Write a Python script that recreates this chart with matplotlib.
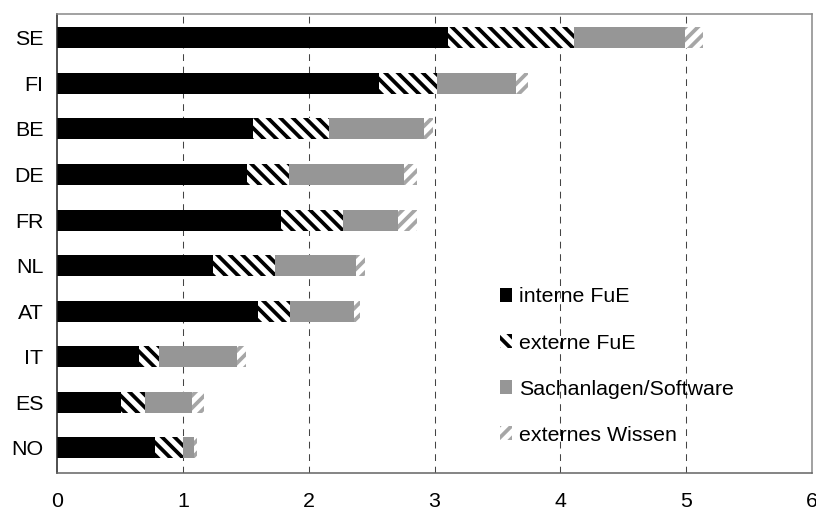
import matplotlib
matplotlib.use("Agg")
import matplotlib.pyplot as plt
import numpy as np

countries = ["SE", "FI", "BE", "DE", "FR", "NL", "AT", "IT", "ES", "NO"]
interne_fue = [3.11, 2.56, 1.56, 1.51, 1.78, 1.24, 1.60, 0.65, 0.51, 0.78]
externe_fue = [1.00, 0.46, 0.60, 0.33, 0.49, 0.49, 0.25, 0.16, 0.19, 0.22]
sachanlagen = [0.88, 0.63, 0.76, 0.92, 0.44, 0.65, 0.51, 0.62, 0.37, 0.09]
externes_wissen = [0.14, 0.09, 0.07, 0.10, 0.15, 0.07, 0.05, 0.07, 0.10, 0.02]
labels = ["interne FuE", "externe FuE", "Sachanlagen/Software", "externes Wissen"]
xticks = [0, 1, 2, 3, 4, 5, 6]

DPI = 75
plt.rcParams['font.family'] = ['Liberation Sans', 'DejaVu Sans']
plt.rcParams['hatch.linewidth'] = 3.6

fig = plt.figure(figsize=(816 / DPI, 511 / DPI), dpi=DPI)
ax = fig.add_axes([57 / 816, 38 / 511, 755 / 816, 459 / 511])

y = np.arange(len(countries))
h = 0.46
left = np.zeros(len(countries))

ax.barh(y, interne_fue, left=left, height=h, color="black", linewidth=0,
        label=labels[0], zorder=2)
left += np.array(interne_fue)
ax.barh(y, externe_fue, left=left, height=h, facecolor="white",
        edgecolor="black", hatch="\\\\", linewidth=0, label=labels[1], zorder=2)
left += np.array(externe_fue)
ax.barh(y, sachanlagen, left=left, height=h, color="#969696", linewidth=0,
        label=labels[2], zorder=2)
left += np.array(sachanlagen)
ax.barh(y, externes_wissen, left=left, height=h, facecolor="white",
        edgecolor="#a6a6a6", hatch="//", linewidth=0, label=labels[3], zorder=2)

ax.set_xlim(0, 6)
ax.set_ylim(9.55, -0.52)
ax.set_yticks(y)
ax.set_yticklabels(countries)
ax.set_xticks(xticks)
ax.set_xticklabels([str(t) for t in xticks])
ax.tick_params(axis="both", length=0, labelsize=20.5, colors="black")
ax.tick_params(axis="x", pad=18)
ax.tick_params(axis="y", pad=13)

for xv in xticks[1:-1]:
    ax.axvline(xv, color="#444444", linewidth=1.0, dashes=(6.5, 5.5), zorder=1)

ax.spines["top"].set_color("#8a8a8a")
ax.spines["right"].set_color("#8a8a8a")
ax.spines["bottom"].set_color("#666666")
ax.spines["left"].set_color("#222222")
for s in ax.spines.values():
    s.set_linewidth(1.5)

leg = ax.legend(loc="upper left", bbox_to_anchor=(0.575, 0.423), frameon=False,
                fontsize=20.5, handlelength=0.6, handleheight=0.6,
                handletextpad=0.3, labelspacing=1.27, borderaxespad=0)

fig.savefig("out.png", dpi=DPI)
